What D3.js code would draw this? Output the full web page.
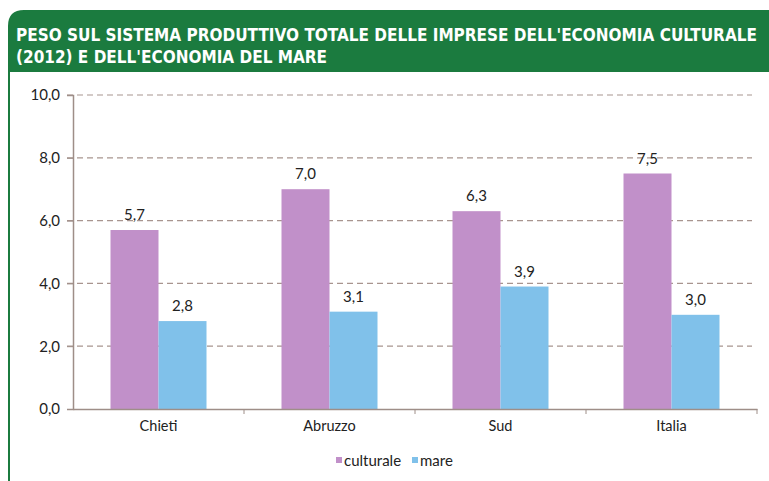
<!DOCTYPE html>
<meta charset="utf-8">
<style>
body { margin: 0; background: #fff; }
.title { font: bold 17px "DejaVu Sans Condensed", "DejaVu Sans", sans-serif; fill: #fff; }
.tick text, .lbl, .legend text { font-family: Lato, "Noto Sans", sans-serif; fill: #222; }
</style>
<body>
<div id="chart"></div>
<script src="https://d3js.org/d3.v7.min.js"></script>
<script>

var width = 769,
    height = 481;

// data
var categories = ["Chieti", "Abruzzo", "Sud", "Italia"];
var series = ["culturale", "mare"];
var culturale = [5.7, 7.0, 6.3, 7.5];
var mare = [2.8, 3.1, 3.9, 3.0];
var yTicks = [0, 2, 4, 6, 8, 10];
var colors = ["#c190c9", "#80c1ea"];

var rows = categories.map(function(c, i) {
  return {cat: c, values: [culturale[i], mare[i]]};
});

var svg = d3.select("#chart").append("svg")
    .attr("width", width)
    .attr("height", height);

// green frame + header
svg.append("path")
    .attr("d", "M8,481 L8,26 Q8,10 24,10 L769,10 L769,72 L10,72 L10,481 Z")
    .attr("fill", "#1b7b3f");

svg.append("text").attr("class", "title")
    .attr("x", 16).attr("y", 41)
    .text("PESO SUL SISTEMA PRODUTTIVO TOTALE DELLE IMPRESE DELL'ECONOMIA CULTURALE");
svg.append("text").attr("class", "title")
    .attr("x", 16).attr("y", 63)
    .text("(2012) E DELL'ECONOMIA DEL MARE");

var x0 = d3.scaleBand()
    .domain(categories)
    .range([73, 757]);

var x1 = d3.scaleBand()
    .domain(series)
    .range([x0.bandwidth() / 2 - 48, x0.bandwidth() / 2 + 48]);

var y = d3.scaleLinear()
    .domain([0, 10])
    .range([409, 95]);

// gridlines
svg.append("g")
  .selectAll("line")
  .data(yTicks.filter(function(d) { return d > 0; }))
  .enter().append("line")
    .attr("x1", 67).attr("x2", 752)
    .attr("y1", function(d) { return y(d); })
    .attr("y2", function(d) { return y(d); })
    .attr("stroke", "#a8958f")
    .attr("stroke-width", 1.2)
    .attr("stroke-dasharray", "6,4");

// bars
var groups = svg.append("g")
  .selectAll("g")
  .data(rows)
  .enter().append("g")
    .attr("transform", function(d) { return "translate(" + x0(d.cat) + ",0)"; });

groups.selectAll("rect")
  .data(function(d) { return d.values.map(function(v, i) { return {key: series[i], value: v}; }); })
  .enter().append("rect")
    .attr("x", function(d) { return x1(d.key); })
    .attr("width", x1.bandwidth())
    .attr("y", function(d) { return y(d.value); })
    .attr("height", function(d) { return y(0) - y(d.value); })
    .attr("fill", function(d, i) { return colors[i]; });

groups.selectAll(".lbl")
  .data(function(d) { return d.values.map(function(v, i) { return {key: series[i], value: v}; }); })
  .enter().append("text")
    .attr("class", "lbl")
    .attr("x", function(d) { return x1(d.key) + x1.bandwidth() / 2; })
    .attr("y", function(d) { return y(d.value) - 10; })
    .attr("text-anchor", "middle")
    .style("font-size", "15px")
    .text(function(d) { return d.value.toFixed(1).replace(".", ","); });

// axes
var yAxis = svg.append("g")
    .attr("transform", "translate(73,0)")
    .call(d3.axisLeft(y).tickValues(yTicks).tickSize(6).tickPadding(7)
      .tickFormat(function(d) { return d.toFixed(1).replace(".", ","); }));
yAxis.select(".domain").attr("stroke", "#9e8e88").attr("stroke-width", 1.5);
yAxis.selectAll(".tick line").attr("stroke", "#9e8e88");
yAxis.selectAll(".tick text").style("font-size", "15px");

var xAxis = svg.append("g")
    .attr("transform", "translate(0,409)")
    .call(d3.axisBottom(x0).tickSize(0).tickPadding(12));
xAxis.select(".domain").attr("stroke", "#9e8e88").attr("stroke-width", 1.5);
xAxis.selectAll(".tick text").style("font-size", "14.5px");

// small ticks between categories
svg.append("g")
  .selectAll("line")
  .data(categories)
  .enter().append("line")
    .attr("x1", function(d) { return x0(d) + x0.bandwidth(); })
    .attr("x2", function(d) { return x0(d) + x0.bandwidth(); })
    .attr("y1", 409).attr("y2", 414)
    .attr("stroke", "#9e8e88");

// legend
var legend = svg.append("g").attr("class", "legend")
    .attr("transform", "translate(336,466)");
var lx = [0, 76];
series.forEach(function(s, i) {
  legend.append("rect")
      .attr("x", lx[i]).attr("y", -9)
      .attr("width", 6).attr("height", 6)
      .attr("fill", colors[i]);
  legend.append("text")
      .attr("x", lx[i] + 8).attr("y", 0)
      .style("font-size", "15px")
      .text(s);
});

</script>
</body>
